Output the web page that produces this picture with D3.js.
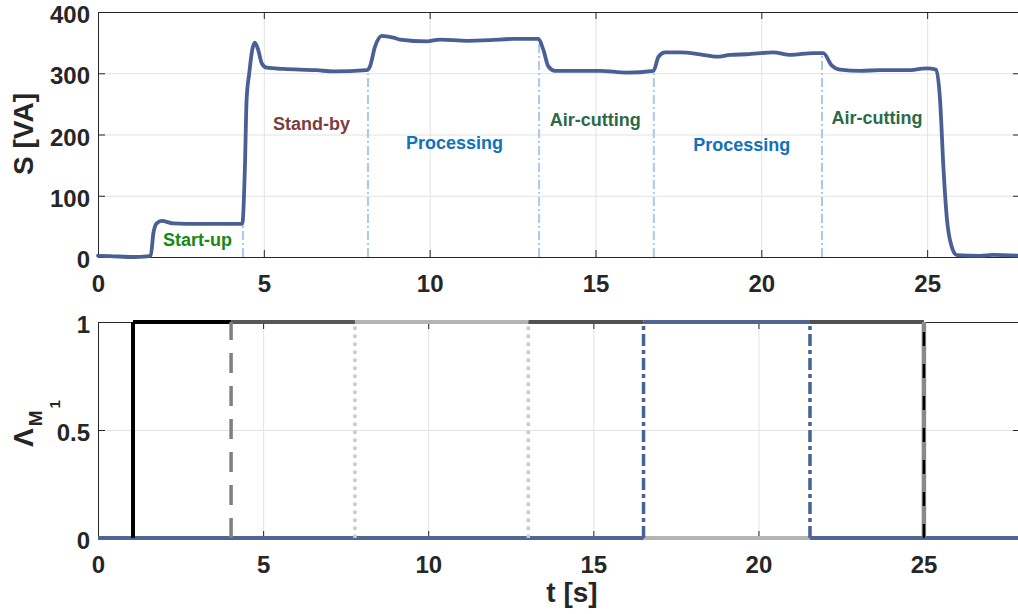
<!DOCTYPE html>
<html>
<head>
<meta charset="utf-8">
<script src="https://cdn.jsdelivr.net/npm/d3@7"></script>
<style>
  body { margin: 0; background: #fff; }
  svg { display: block; }
  text { font-family: "Liberation Sans", Arial, sans-serif; font-weight: bold; }
</style>
</head>
<body>
<svg id="chart" width="1018" height="614"></svg>
<script>
// ---- Apparent power S [VA] over time t [s] ----
const timeS  = [0, 0.36, 1.06, 1.47, 1.59, 1.67, 1.77, 1.92, 2.26, 3.08, 4.07, 4.35, 4.43, 4.48, 4.56, 4.65,
                4.73, 4.83, 4.94, 5.09, 5.59, 6.60, 7.10, 8.10, 8.20, 8.35, 8.56, 8.91, 9.11, 9.91, 10.31,
                11.12, 11.82, 12.52, 13.28, 13.43, 13.58, 13.78, 14.54, 15.14, 15.94, 16.75, 16.90, 17.10,
                17.55, 18.15, 18.66, 19.06, 19.56, 20.36, 20.87, 21.57, 21.87, 22.12, 22.38, 22.98, 23.58,
                24.39, 24.99, 25.27, 25.39, 25.49, 25.59, 25.74, 25.90, 26.60, 26.97, 27.80];
const powerS = [2, 1.5, 0, 1, 2, 39, 55, 59, 55, 54, 54, 54, 147, 256, 300, 338,
                350, 338, 316, 309, 307, 305, 303, 305, 311, 343, 361, 358, 355, 352, 355,
                353, 354, 356, 356, 338, 311, 304, 304, 304, 301, 304, 327, 334,
                334, 331, 327, 330, 331, 334, 330, 333, 333, 313, 306, 304, 305,
                305, 308, 306, 256, 147, 66, 17, 3, 2, 3.5, 2];

// phase boundaries (dash-dot markers) and the height they reach
const phaseTimes = [4.37, 8.14, 13.3, 16.76, 21.83];
const phaseTops  = [53, 300, 352, 300, 328];

// phase names written inside the upper panel
const phaseNames  = ["Start-up", "Stand-by", "Processing", "Air-cutting", "Processing", "Air-cutting"];
const phaseLabelT = [3.0, 6.44, 10.75, 14.99, 19.41, 23.49];
const phaseLabelS = [18, 207, 176, 214, 173, 217];
const phaseColors = ["#138a13", "#7e3c3c", "#0f72bd", "#2b6a48", "#0f72bd", "#2b6a48"];

const sTicks = [0, 100, 200, 300, 400];
const tTicks = [0, 5, 10, 15, 20, 25];
const lambdaTicks = [0, 0.5, 1];

// ---- mode indicators (lower panel) ----
const modeNames   = ["Start-up", "Stand-by", "Air-cutting", "Processing", "Processing M1"];
const modeOn      = [[[1.06, 4.03]], [[4.03, 7.78]], [[13.03, 16.52], [21.56, 25.01]], [[7.78, 13.03]], [[16.52, 21.56]]];
const modeColors  = ["#000000", "#575757", "#515151", "#b4b4b4", "#506594"];
const edgeTimes   = [1.06, 4.03, 7.78, 13.03, 16.52, 21.56, 25.01, 25.01];
const edgeKinds   = ["startup", "standby", "proc", "proc", "procM1", "procM1", "aircut", "shutdown"];

const edgeStyle = {
  startup:  { color: "#000000", width: 4,   dash: null },
  standby:  { color: "#808080", width: 3.5, dash: "20,13" },
  proc:     { color: "#cacaca", width: 3.5, dash: "3.5,4.5" },
  procM1:   { color: "#4a6196", width: 3.5, dash: "12,4,4,4" },
  aircut:   { color: "#8a8a8a", width: 4.5, dash: null },
  shutdown: { color: "#000000", width: 2.5, dash: "14,18" }
};

const svg = d3.select("#chart");
const axisColor = "#262626";
const gridColor = "#e2e2e2";
const left = 98, right = 1020;

function frame(g, x, y, xTicks, yTicks, yFmt, h) {
  // grid
  g.append("g").attr("transform", `translate(0,${h})`)
    .call(d3.axisBottom(x).tickValues(xTicks.filter(d => d > 0)).tickSize(-h).tickFormat(""))
    .call(s => { s.select(".domain").remove(); s.selectAll("line").attr("stroke", gridColor); });
  g.append("g")
    .call(d3.axisLeft(y).tickValues(yTicks.filter(d => d > y.domain()[0] && d < y.domain()[1])).tickSize(-(right - left)).tickFormat(""))
    .call(s => { s.select(".domain").remove(); s.selectAll("line").attr("stroke", gridColor); });

  const style = s => {
    s.select(".domain").attr("stroke", axisColor).attr("stroke-width", 1);
    s.selectAll(".tick line").attr("stroke", axisColor).attr("stroke-width", 1);
    s.selectAll("text").attr("fill", axisColor).attr("font-size", 24)
      .style("font-family", '"Liberation Sans", Arial, sans-serif').style("font-weight", "bold");
  };
  g.append("g").attr("transform", `translate(0,${h})`)
    .call(d3.axisBottom(x).tickValues(xTicks).tickSizeInner(-7).tickSizeOuter(0).tickPadding(18).tickFormat(d3.format("d")))
    .call(style);
  g.append("g")
    .call(d3.axisTop(x).tickValues(xTicks).tickSizeInner(-7).tickSizeOuter(0).tickFormat(""))
    .call(style);
  g.append("g")
    .call(d3.axisLeft(y).tickValues(yTicks).tickSizeInner(-7).tickSizeOuter(0).tickPadding(8).tickFormat(yFmt))
    .call(style)
    .call(s => s.selectAll("text").attr("dy", "0.44em"));
  g.append("g").attr("transform", `translate(${right - left},0)`)
    .call(d3.axisRight(y).tickValues(yTicks).tickSizeInner(-7).tickSizeOuter(0).tickFormat(""))
    .call(style);
}

// ---------- upper panel ----------
const top1 = 12, bot1 = 257;
const x1 = d3.scaleLinear().domain([0, 27.8]).range([0, right - left]);
const y1 = d3.scaleLinear().domain([0, 400]).range([bot1 - top1, 0]);
const g1 = svg.append("g").attr("transform", `translate(${left},${top1})`);
frame(g1, x1, y1, tTicks, sTicks, d3.format("d"), bot1 - top1);

// phase boundary markers
g1.append("g").selectAll("line").data(phaseTimes).join("line")
  .attr("x1", d => x1(d)).attr("x2", d => x1(d))
  .attr("y1", y1(0)).attr("y2", (d, i) => y1(phaseTops[i]))
  .attr("stroke", "#abc9ee").attr("stroke-width", 2).attr("stroke-dasharray", "9,3,2,3");

// power curve
const sLine = d3.line().x((d, i) => x1(timeS[i])).y(d => y1(d)).curve(d3.curveMonotoneX);
g1.append("path").datum(powerS).attr("d", sLine)
  .attr("fill", "none").attr("stroke", "#4a6094").attr("stroke-width", 3.8)
  .attr("stroke-linejoin", "round").attr("stroke-linecap", "round");

// phase names
g1.append("g").selectAll("text").data(phaseNames).join("text")
  .attr("x", (d, i) => x1(phaseLabelT[i])).attr("y", (d, i) => y1(phaseLabelS[i]))
  .attr("text-anchor", "middle").attr("font-size", 18)
  .attr("fill", (d, i) => phaseColors[i]).text(d => d);

svg.append("text").attr("transform", "translate(33,134) rotate(-90)")
  .attr("text-anchor", "middle").attr("font-size", 28).attr("fill", axisColor).text("S [VA]");

// ---------- lower panel ----------
const top2 = 322, bot2 = 538;
const x2 = d3.scaleLinear().domain([0, 27.92]).range([0, right - left]);
const y2 = d3.scaleLinear().domain([0, 1]).range([bot2 - top2, 0]);
const g2 = svg.append("g").attr("transform", `translate(${left},${top2})`);
frame(g2, x2, y2, tTicks, lambdaTicks, d => d === 0.5 ? "0.5" : d3.format("d")(d), bot2 - top2);

const tMax = x2.domain()[1];
const seg = d3.line().x(d => x2(d[0])).y(d => y2(d[1]));

// level runs of each indicator (0 or 1)
modeNames.forEach((name, m) => {
  const runs = [];
  let t0 = 0;
  modeOn[m].forEach(([a, b]) => {
    runs.push([[t0, 0], [a, 0]]);
    runs.push([[a, 1], [b, 1]]);
    t0 = b;
  });
  runs.push([[t0, 0], [tMax, 0]]);
  g2.append("g").attr("class", "mode").selectAll("path").data(runs).join("path")
    .attr("d", seg).attr("fill", "none")
    .attr("stroke", modeColors[m]).attr("stroke-width", 4);
});

// switching edges
g2.append("g").selectAll("path").data(edgeTimes).join("path")
  .attr("d", d => seg([[d, 0], [d, 1]]))
  .attr("fill", "none")
  .attr("stroke", (d, i) => edgeStyle[edgeKinds[i]].color)
  .attr("stroke-width", (d, i) => edgeStyle[edgeKinds[i]].width)
  .attr("stroke-dasharray", (d, i) => edgeStyle[edgeKinds[i]].dash);

// axis titles
const lam = svg.append("text").attr("transform", "translate(33,447) rotate(-90)")
  .attr("text-anchor", "start").attr("fill", axisColor);
lam.append("tspan").attr("font-size", 28).text("Λ");
lam.append("tspan").attr("font-size", 19).attr("dx", 2).attr("dy", 9).text("M");
lam.append("tspan").attr("font-size", 15).attr("dx", 2).attr("dy", 18).text("1");

svg.append("text").attr("x", 572).attr("y", 602).attr("text-anchor", "middle")
  .attr("font-size", 28).attr("fill", axisColor).text("t [s]");
</script>
</body>
</html>
